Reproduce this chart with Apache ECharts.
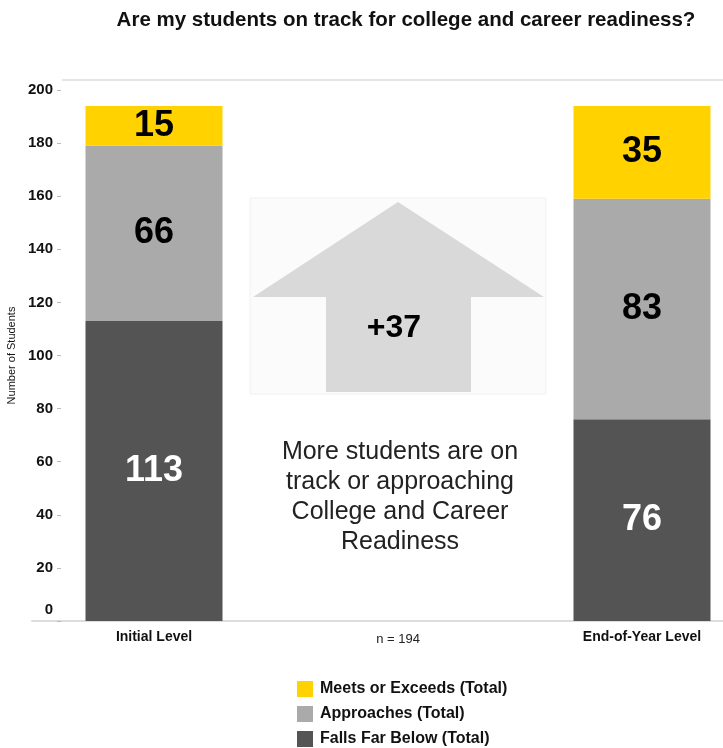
<!DOCTYPE html>
<html><head><meta charset="utf-8">
<script src="https://cdn.jsdelivr.net/npm/echarts@6/dist/echarts.min.js"></script>
<style>html,body{margin:0;padding:0;background:#fff}#c{width:723px;height:748px}</style>
</head><body><div id="c"></div>
<script>
const categories = ['Initial Level', 'n = 194', 'End-of-Year Level'];
const fallsFarBelow = [113, null, 76];
const approaches = [66, null, 83];
const meetsOrExceeds = [15, null, 35];
const yTicks = [0, 20, 40, 60, 80, 100, 120, 140, 160, 180, 200];
const seriesNames = ['Falls Far Below (Total)', 'Approaches (Total)', 'Meets or Exceeds (Total)'];
const titleText = 'Are my students on track for college and career readiness?';
const noteText = 'More students are on\ntrack or approaching\nCollege and Career\nReadiness';

const change = (meetsOrExceeds[2] + approaches[2]) - (meetsOrExceeds[0] + approaches[0]);
const FONT = 'Liberation Sans, Arial, sans-serif';

const chart = echarts.init(document.getElementById('c'));
function lbl(color) {
  return {show: true, position: 'inside', color: color, fontFamily: FONT, fontWeight: 'bold', fontSize: 36,
    formatter: p => (p.value == null ? '' : p.value)};
}
chart.setOption({
  animation: false,
  title: {text: titleText, left: 401, top: 5, textAlign: 'center',
    textStyle: {fontFamily: FONT, fontWeight: 'bold', fontSize: 20.5, color: '#111'}},
  legend: {orient: 'vertical', left: 297, top: 681, padding: 0, itemWidth: 16, itemHeight: 16, itemGap: 9,
    data: [seriesNames[2], seriesNames[1], seriesNames[0]], icon: 'rect',
    textStyle: {fontFamily: FONT, fontWeight: 'bold', fontSize: 16, color: '#111', padding: [0, 0, 0, 2]}},
  grid: {left: 32, width: 732, top: 90, bottom: 127, containLabel: false, outerBoundsMode: 'none'},
  xAxis: {type: 'category', data: categories,
    axisLine: {lineStyle: {color: '#dcdcdc', width: 2}}, axisTick: {show: false},
    axisLabel: {margin: 9, fontFamily: FONT, color: '#111', fontSize: 14,
      formatter: (v, i) => i === 1 ? '{n|' + v + '}' : '{b|' + v + '}',
      rich: {b: {fontFamily: FONT, fontWeight: 'bold', fontSize: 14, color: '#111'},
             n: {fontFamily: FONT, fontSize: 13, color: '#222', padding: [3, 0, 0, 0]}}}},
  yAxis: {type: 'value', min: yTicks[0], max: yTicks[yTicks.length - 1], interval: yTicks[1] - yTicks[0],
    offset: -29, name: 'Number of Students', nameLocation: 'middle', nameGap: 40, nameRotate: 90,
    nameTextStyle: {fontFamily: FONT, fontSize: 11, color: '#111'},
    axisLine: {show: false}, axisTick: {show: true, length: 4, lineStyle: {color: '#bbb'}},
    splitLine: {show: false},
    axisLabel: {margin: 8, fontFamily: FONT, fontWeight: 'bold', fontSize: 15, color: '#111',
      formatter: v => v === 0 ? '{z|0}' : String(v),
      rich: {z: {fontFamily: FONT, fontWeight: 'bold', fontSize: 15, color: '#111', padding: [0, 0, 22, 0]}}}},
  series: [
    {name: seriesNames[0], type: 'bar', stack: 's', data: fallsFarBelow, barWidth: 137,
      itemStyle: {color: '#545454'}, label: lbl('#fff')},
    {name: seriesNames[1], type: 'bar', stack: 's', data: approaches,
      itemStyle: {color: '#aaaaaa'}, label: lbl('#000')},
    {name: seriesNames[2], type: 'bar', stack: 's', data: meetsOrExceeds,
      itemStyle: {color: '#ffd200'}, label: lbl('#000')}
  ]
});

const cx = chart.convertToPixel({xAxisIndex: 0}, categories[1]);
chart.setOption({
  graphic: [
    {type: 'line', shape: {x1: 62, y1: 80, x2: 723, y2: 80}, style: {stroke: '#e6e6e6', lineWidth: 2}, silent: true},
    {type: 'rect', shape: {x: cx - 148, y: 198, width: 296, height: 196},
      style: {fill: '#fbfbfb', stroke: '#f1f1f1', lineWidth: 1}, silent: true},
    {type: 'polygon', shape: {points: [[cx, 202], [cx - 145, 297], [cx - 72, 297], [cx - 72, 392],
      [cx + 73, 392], [cx + 73, 297], [cx + 146, 297]]}, style: {fill: '#d9d9d9'}, silent: true},
    {type: 'text', x: cx - 4, y: 328, style: {text: '+' + change, fontFamily: FONT, fontWeight: 'bold', fontSize: 32,
      fill: '#000', align: 'center', verticalAlign: 'middle'}, silent: true},
    {type: 'text', x: cx + 2, y: 497, style: {text: noteText, fontFamily: FONT, fontSize: 25, lineHeight: 30,
      fill: '#222', align: 'center', verticalAlign: 'middle'}, silent: true}
  ]
});
</script></body></html>
